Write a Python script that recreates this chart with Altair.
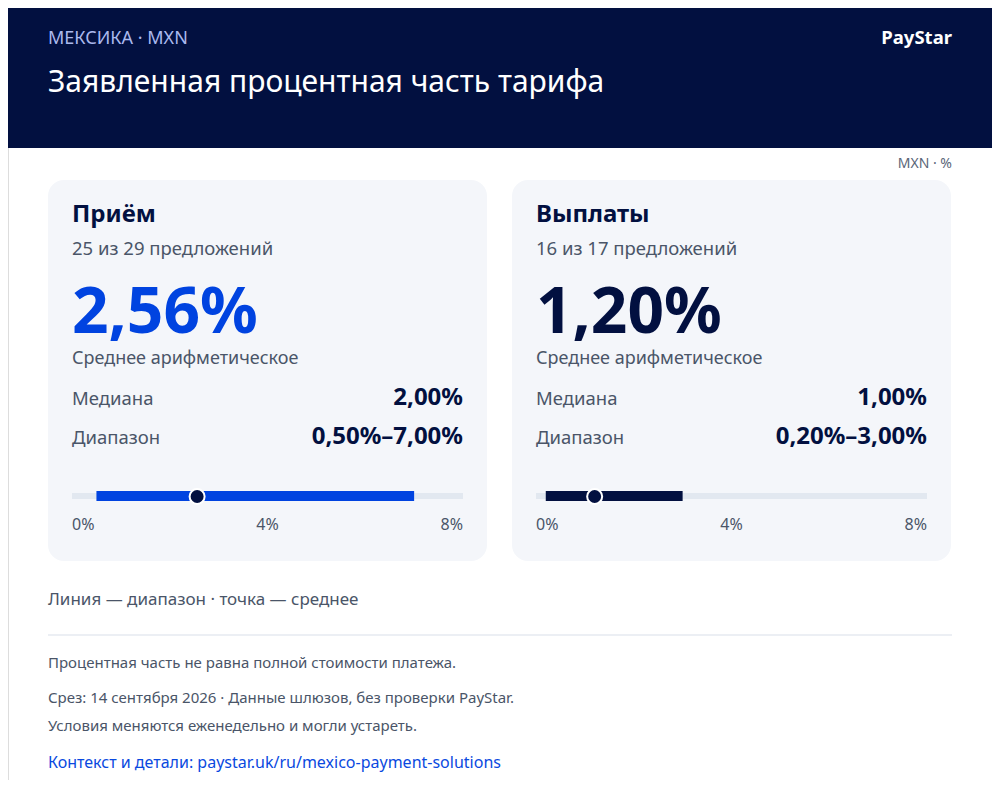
import altair as alt
import pandas as pd

# ---- data ----
kicker = "МЕКСИКА · MXN"
title = "Заявленная процентная часть тарифа"
brand = "PayStar"
unit_note = "MXN · %"
panels = ["Приём", "Выплаты"]
offers = ["25 из 29 предложений", "16 из 17 предложений"]
means = [2.56, 1.20]
medians = [2.00, 1.00]
lows = [0.50, 0.20]
highs = [7.00, 3.00]
axis_ticks = [0, 4, 8]
tick_labels = ["0%", "4%", "8%"]
mean_label = "Среднее арифметическое"
median_label = "Медиана"
range_label = "Диапазон"
legend_note = "Линия — диапазон · точка — среднее"
footer_lines = [
    "Процентная часть не равна полной стоимости платежа.",
    "Срез: 14 сентября 2026 · Данные шлюзов, без проверки PayStar.",
    "Условия меняются еженедельно и могли устареть.",
]
link_text = "Контекст и детали: paystar.uk/ru/mexico-payment-solutions"

# ---- style ----
FONT = "Noto Sans"
NAVY = "#021040"
BLUE = "#0043E0"
GRAY = "#4A5568"
CARD = "#F4F6FA"
TRACK = "#E2E8F0"
panel_colors = [BLUE, NAVY]

# the page adds an 8px margin; lay out in page coordinates and shift
M = 8


def X(v):
    return v - M


def Y(v):
    return v - M


def pct(v):
    return f"{v:.2f}".replace(".", ",") + "%"


one = pd.DataFrame({"k": [0]})


def txt(s, x, y, size, color, weight="normal", align="left"):
    return alt.Chart(one).mark_text(
        text=s, font=FONT, fontSize=size, color=color, fontWeight=weight,
        align=align, baseline="alphabetic",
    ).encode(x=alt.value(X(x)), y=alt.value(Y(y)))


def box(x, x2, y, y2, color, radius=0):
    return alt.Chart(one).mark_rect(color=color, cornerRadius=radius).encode(
        x=alt.value(X(x)), x2=alt.value(X(x2)), y=alt.value(Y(y)), y2=alt.value(Y(y2))
    )


layers = [
    box(0, 1000, 0, 148, NAVY),
    txt(kicker, 48, 44, 18, "#AAB9EE"),
    txt(title, 48, 92, 30, "white"),
    txt(brand, 952, 44, 18.5, "white", "bold", "right"),
    txt(unit_note, 952, 168, 14, "#5A6578", align="right"),
]

card_x = [48, 512]
CW = 439
PAD = 24
bar_layers = []
aligns = ["left", "center", "right"]
for i, name in enumerate(panels):
    x0 = card_x[i]
    xl = x0 + PAD
    xr = x0 + CW - PAD
    layers += [
        box(x0, x0 + CW, 180, 561, CARD, 16),
        txt(name, xl, 222, 24, NAVY, "bold"),
        txt(offers[i], xl, 255, 18.5, GRAY),
        txt(pct(means[i]), xl, 333, 64, panel_colors[i], "bold"),
        txt(mean_label, xl, 364, 18, GRAY),
        txt(median_label, xl, 405, 18.5, GRAY),
        txt(pct(medians[i]), xr, 405, 24, NAVY, "bold", "right"),
        txt(range_label, xl, 444, 18.5, GRAY),
        txt(pct(lows[i]) + "–" + pct(highs[i]), xr, 444, 24, NAVY, "bold", "right"),
    ]
    scale = alt.Scale(domain=[axis_ticks[0], axis_ticks[-1]], range=[X(xl), X(xr)],
                      nice=False, zero=False)
    track_df = pd.DataFrame({"a": [axis_ticks[0]], "b": [axis_ticks[-1]]})
    rng_df = pd.DataFrame({"lo": [lows[i]], "hi": [highs[i]], "mean": [means[i]]})
    track = alt.Chart(track_df).mark_rect(color=TRACK).encode(
        x=alt.X("a:Q", scale=scale, axis=None), x2="b:Q",
        y=alt.value(Y(493)), y2=alt.value(Y(499)),
    )
    rng = alt.Chart(rng_df).mark_rect(color=panel_colors[i]).encode(
        x=alt.X("lo:Q", scale=scale, axis=None), x2="hi:Q",
        y=alt.value(Y(491)), y2=alt.value(Y(501)),
    )
    dot = alt.Chart(rng_df).mark_point(
        filled=True, shape="circle", size=225, color=NAVY, stroke="white",
        strokeWidth=2, opacity=1,
    ).encode(x=alt.X("mean:Q", scale=scale, axis=None), y=alt.value(Y(496.5)))
    ticks = []
    for j, v in enumerate(axis_ticks):
        tdf = pd.DataFrame({"v": [v], "lab": [tick_labels[j]]})
        ticks.append(
            alt.Chart(tdf).mark_text(
                font=FONT, fontSize=16, color=GRAY, align=aligns[j], baseline="alphabetic"
            ).encode(x=alt.X("v:Q", scale=scale, axis=None), y=alt.value(Y(530)), text="lab:N")
        )
    bar_layers.append(alt.layer(track, rng, dot, *ticks))

layers += [
    txt(legend_note, 48, 605, 17, GRAY),
    alt.Chart(one).mark_rule(color="#E6EAF0", strokeWidth=1.5).encode(
        x=alt.value(X(48)), x2=alt.value(X(952)), y=alt.value(Y(635))
    ),
    txt(footer_lines[0], 48, 668, 15, GRAY),
    txt(footer_lines[1], 48, 703, 15, GRAY),
    txt(footer_lines[2], 48, 731, 15, GRAY),
    txt(link_text, 48, 768, 16, "#0A49E0"),
]

chart = alt.layer(*layers, *bar_layers).resolve_scale(x="independent").properties(
    width=1000 - 2 * M, height=780 - M, padding=0,
    autosize=alt.AutoSizeParams(type="none"),
).configure_view(stroke=None).configure(background="white")

chart.save("out.html", embed_options={"renderer": "svg", "actions": False})
